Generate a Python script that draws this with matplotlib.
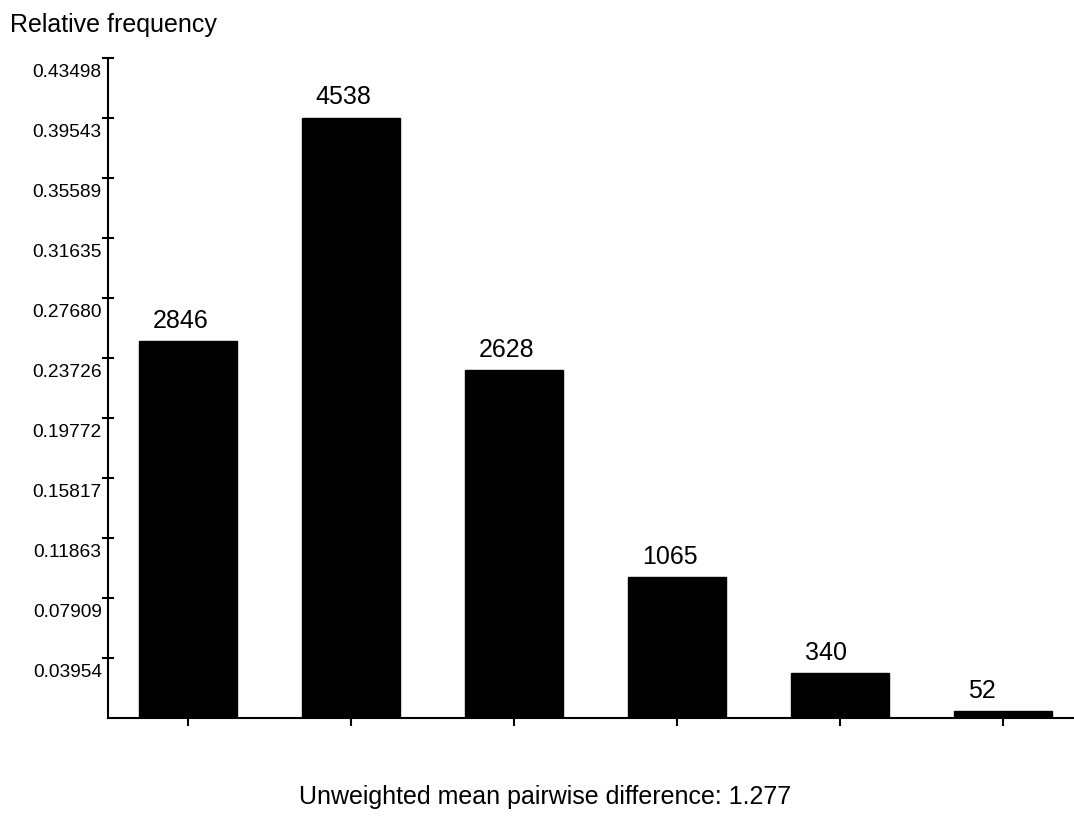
import matplotlib
matplotlib.use('Agg')
import matplotlib.pyplot as plt
import matplotlib.transforms as mtransforms
import numpy as np

plt.rcParams['font.family'] = ['Liberation Sans', 'DejaVu Sans']

# data
counts = [2846, 4538, 2628, 1065, 340, 52]
ytick_vals = [0.03954, 0.07909, 0.11863, 0.15817, 0.19772, 0.23726,
              0.27680, 0.31635, 0.35589, 0.39543, 0.43498]
ytick_labels = ['0.03954', '0.07909', '0.11863', '0.15817', '0.19772', '0.23726',
                '0.27680', '0.31635', '0.35589', '0.39543', '0.43498']
mean_diff = 1.277

freq = np.array(counts) / sum(counts)
x = np.arange(len(counts))

fig = plt.figure(figsize=(10.74, 8.34), dpi=100)
ax = fig.add_axes([108 / 1074, 1 - 718 / 834, 1 - 108 / 1074, (718 - 58) / 834])

bw = 0.6
ax.bar(x, freq, width=bw, color='black', edgecolor='black')

for xi, f, c in zip(x, freq, counts):
    ax.annotate(str(c), (xi - bw / 2 + 0.085, f), xytext=(0, 6), textcoords='offset points',
                ha='left', va='bottom', fontsize=18)

ax.set_xlim(-0.49, 5.436)
ax.set_ylim(0, 0.43498)
ax.set_xticks(x)
ax.set_xticklabels([])
ax.set_yticks(ytick_vals)
ax.set_yticklabels(ytick_labels, fontsize=13.8)
ax.tick_params(axis='y', direction='inout', length=9, width=1.5, pad=0)
ax.tick_params(axis='x', direction='out', length=6, width=1.5)
# labels sit just below their tick, as in the original
shift = mtransforms.ScaledTranslation(0, -4 / 72, fig.dpi_scale_trans)
for lbl in ax.get_yticklabels():
    lbl.set_verticalalignment('top')
    lbl.set_transform(lbl.get_transform() + shift)
for s in ['top', 'right']:
    ax.spines[s].set_visible(False)
for s in ['left', 'bottom']:
    ax.spines[s].set_linewidth(1.5)

fig.text(10 / 1074, 1 - 25 / 834, 'Relative frequency', fontsize=18, ha='left', va='center')
fig.text(545 / 1074, 1 - 797 / 834, 'Unweighted mean pairwise difference: %.3f' % mean_diff,
         fontsize=18, ha='center', va='center')

plt.savefig('out.png', dpi=100)
